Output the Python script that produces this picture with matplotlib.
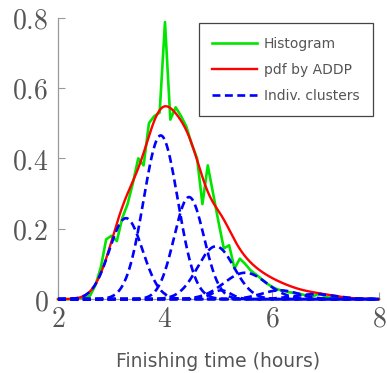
import numpy as np
import matplotlib
matplotlib.use("Agg")
import matplotlib.pyplot as plt
import matplotlib.ticker as mtick

plt.rcParams["mathtext.fontset"] = "cm"

# histogram of finishing times (bin centres, density)
hist_x = np.round(np.arange(2.0, 8.01, 0.1), 1)
hist_y = [
    0.0, 0.0, 0.0, 0.0, 0.002, 0.004, 0.01, 0.04, 0.09, 0.17,
    0.18, 0.165, 0.23, 0.27, 0.33, 0.40, 0.38, 0.50, 0.52, 0.53,
    0.787, 0.51, 0.545, 0.52, 0.49, 0.44, 0.40, 0.27, 0.38, 0.30,
    0.22, 0.144, 0.153, 0.087, 0.115, 0.10, 0.082, 0.07, 0.058, 0.045,
    0.035, 0.028, 0.024, 0.02, 0.018, 0.016, 0.012, 0.007, 0.01, 0.017,
    0.006, 0.004, 0.003, 0.002, 0.004, 0.002, 0.001, 0.001, 0.0, 0.0,
    0.0,
]

# individual ADDP clusters (gaussian components): centre, spread, peak height
clu_mean = [3.27, 3.92, 4.45, 4.95, 5.50, 5.05, 6.15, 6.80]
clu_std = [0.31, 0.32, 0.28, 0.34, 0.40, 0.18, 0.35, 0.40]
clu_peak = [0.23, 0.465, 0.29, 0.15, 0.075, 0.025, 0.025, 0.014]

xs = np.linspace(2, 8, 600)
clusters = [p * np.exp(-0.5 * ((xs - m) / s) ** 2)
            for m, s, p in zip(clu_mean, clu_std, clu_peak)]
pdf = np.sum(clusters, axis=0)

fig = plt.figure(figsize=(3.87, 3.73), dpi=100)
ax = fig.add_axes([0.150, 0.198, 0.829, 0.755])

ax.plot(hist_x, hist_y, color="#00e600", lw=1.9, clip_on=False, label="Histogram", zorder=2)
ax.plot(xs, pdf, color="#ff0000", lw=1.7, clip_on=False, label="pdf by ADDP", zorder=3)
for i, c in enumerate(clusters):
    ax.plot(xs, c, color="#0000ff", lw=1.9, ls=(0, (3.0, 1.7)), clip_on=False,
            label="Indiv. clusters" if i == 0 else None, zorder=4)

ax.set_xlim(2, 8)
ax.set_ylim(0, 0.8)
ax.set_xticks([2, 4, 6, 8])
ax.set_yticks([0, 0.2, 0.4, 0.6, 0.8])
ax.xaxis.set_major_formatter(mtick.FuncFormatter(lambda v, _: f"${v:g}$"))
ax.yaxis.set_major_formatter(mtick.FuncFormatter(lambda v, _: f"${v:g}$"))

for s in ["top", "right"]:
    ax.spines[s].set_visible(False)
for s in ["left", "bottom"]:
    ax.spines[s].set_color("#999999")
    ax.spines[s].set_linewidth(0.9)

ax.tick_params(direction="in", length=5, width=0.8, color="#999999",
               labelsize=20, labelcolor="#555555")
ax.tick_params(axis="x", pad=4)
ax.tick_params(axis="y", pad=7)

ax.set_xlabel("Finishing time (hours)", fontsize=13.5, color="#555555", labelpad=14)

leg = ax.legend(loc="upper right", fontsize=10, frameon=True, fancybox=False,
                edgecolor="#444444", framealpha=1, handlelength=3.2,
                handletextpad=0.5, labelspacing=0.85, borderaxespad=0.4,
                borderpad=1.0)
leg.get_frame().set_linewidth(0.9)
for t in leg.get_texts():
    t.set_color("#555555")

fig.savefig("out.png", dpi=100)
